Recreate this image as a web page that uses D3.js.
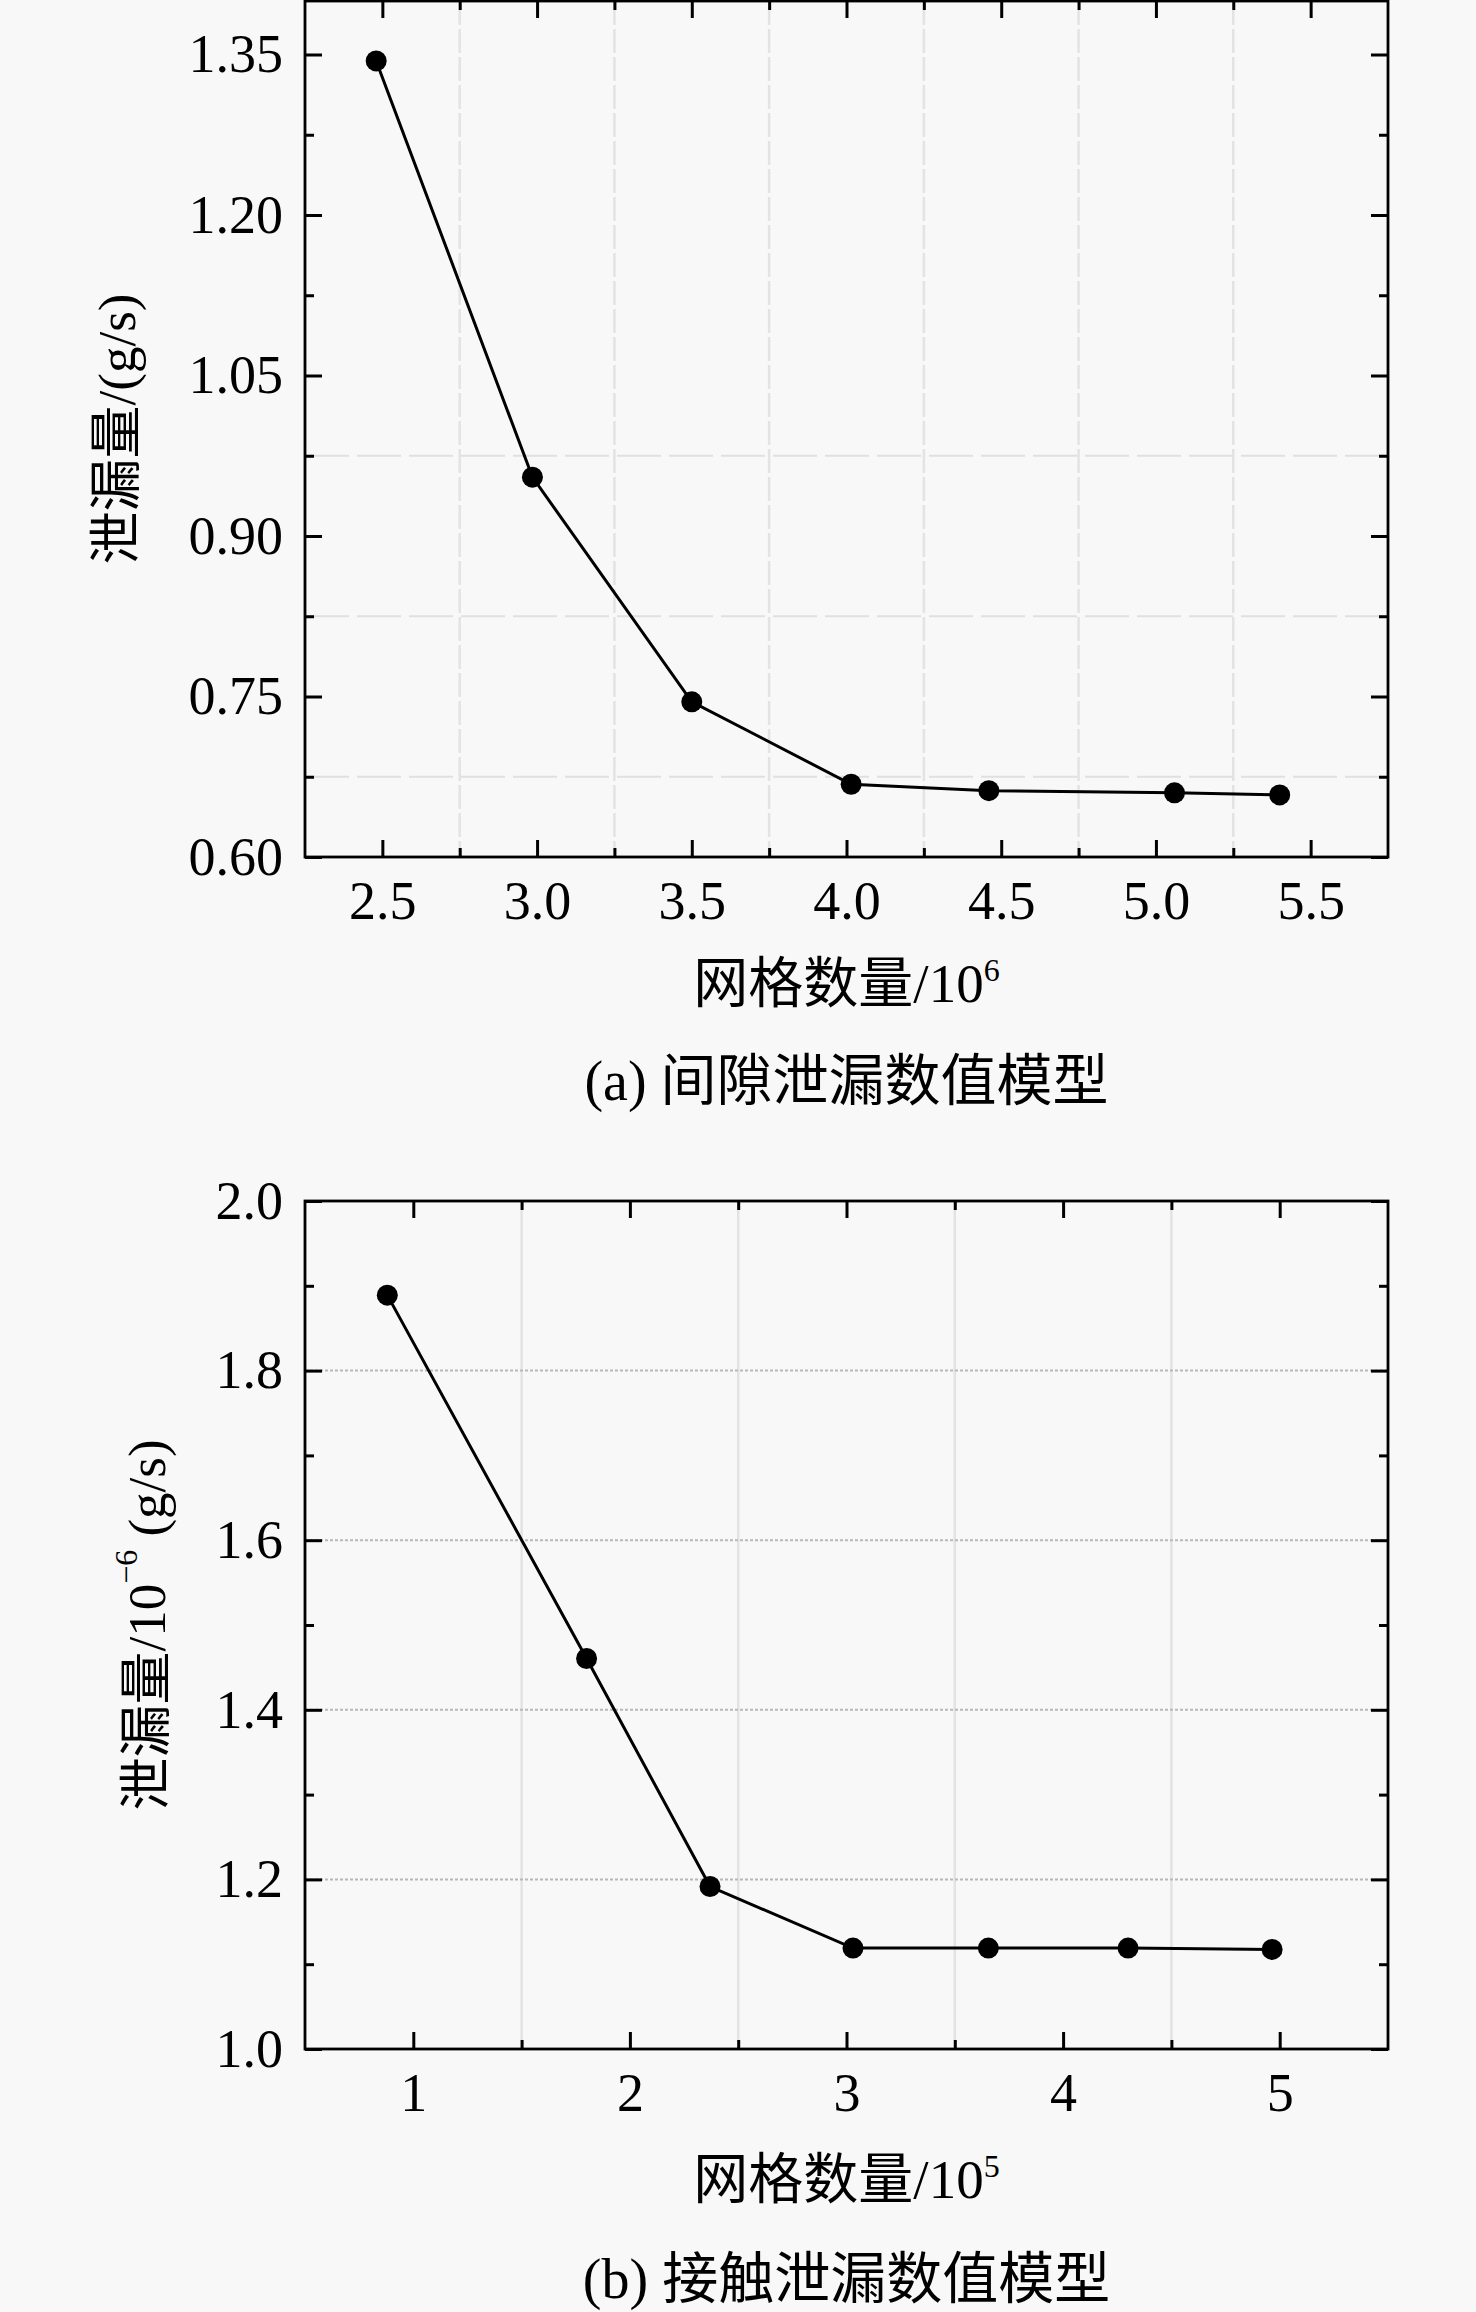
<!DOCTYPE html>
<html>
<head>
<meta charset="utf-8">
<script src="https://cdn.jsdelivr.net/npm/d3@7"></script>
<style>
  html, body { margin: 0; padding: 0; background: #f8f8f8; }
  svg { display: block; }
  text { fill: #000; }
</style>
</head>
<body>
<svg id="chart" width="1476" height="2312"></svg>
<script>
// (a) gap leakage model
const gapMesh = [2.48, 2.985, 3.50, 4.015, 4.46, 5.06, 5.40];
const gapLeak = [1.344, 0.955, 0.745, 0.668, 0.662, 0.660, 0.658];
const gapXTicks = [2.5, 3.0, 3.5, 4.0, 4.5, 5.0, 5.5];
const gapXMinor = [2.75, 3.25, 3.75, 4.25, 4.75, 5.25];
const gapYTicks = [0.60, 0.75, 0.90, 1.05, 1.20, 1.35];
const gapYMinor = [0.675, 0.825, 0.975, 1.125, 1.275];
const gapGridY = [0.675, 0.825, 0.975];

// (b) contact leakage model
const contactMesh = [0.88, 1.80, 2.37, 3.03, 3.655, 4.30, 4.965];
const contactLeak = [1.889, 1.4605, 1.1916, 1.119, 1.119, 1.119, 1.1174];
const contactXTicks = [1, 2, 3, 4, 5];
const contactXMinor = [1.5, 2.5, 3.5, 4.5];
const contactYTicks = [1.0, 1.2, 1.4, 1.6, 1.8, 2.0];
const contactYMinor = [1.1, 1.3, 1.5, 1.7, 1.9];

const latin = '"Liberation Serif", "Times New Roman", serif';
const cjk = '"Liberation Serif", "Noto Sans CJK SC", serif';

const svg = d3.select('#chart');

function drawPanel(p)
{
  const x = d3.scaleLinear().domain(p.xDomain).range([p.left, p.right]);
  const y = d3.scaleLinear().domain(p.yDomain).range([p.bottom, p.top]);
  const g = svg.append('g');

  // grid
  g.append('g').selectAll('line').data(p.gridX).join('line')
    .attr('x1', d => x(d)).attr('x2', d => x(d))
    .attr('y1', p.top).attr('y2', p.bottom)
    .attr('stroke', '#e3e3e3').attr('stroke-width', 2.5)
    .attr('stroke-dasharray', p.gridXDash);
  g.append('g').selectAll('line').data(p.gridY).join('line')
    .attr('x1', p.left).attr('x2', p.right)
    .attr('y1', d => y(d)).attr('y2', d => y(d))
    .attr('stroke', p.gridYColor).attr('stroke-width', 2)
    .attr('stroke-dasharray', p.gridYDash);

  const tickStyle = sel => {
    sel.select('.domain').remove();
    sel.selectAll('line').attr('stroke', '#000').attr('stroke-width', 3);
    sel.selectAll('text').attr('font-family', latin).attr('font-size', 54).attr('fill', '#000');
  };

  // major + minor ticks, all pointing inward on the four sides
  g.append('g').attr('transform', `translate(0,${p.bottom})`)
    .call(d3.axisBottom(x).tickValues(p.xTicks).tickSize(-17).tickPadding(24).tickFormat(p.xFormat))
    .call(tickStyle);
  g.append('g').attr('transform', `translate(0,${p.bottom})`)
    .call(d3.axisBottom(x).tickValues(p.xMinor).tickSize(-9).tickFormat(''))
    .call(tickStyle);
  g.append('g').attr('transform', `translate(0,${p.top})`)
    .call(d3.axisTop(x).tickValues(p.xTicks).tickSize(-17).tickFormat(''))
    .call(tickStyle);
  g.append('g').attr('transform', `translate(0,${p.top})`)
    .call(d3.axisTop(x).tickValues(p.xMinor).tickSize(-9).tickFormat(''))
    .call(tickStyle);
  g.append('g').attr('transform', `translate(${p.left},0)`)
    .call(d3.axisLeft(y).tickValues(p.yTicks).tickSize(-17).tickPadding(22).tickFormat(p.yFormat))
    .call(tickStyle);
  g.append('g').attr('transform', `translate(${p.left},0)`)
    .call(d3.axisLeft(y).tickValues(p.yMinor).tickSize(-9).tickFormat(''))
    .call(tickStyle);
  g.append('g').attr('transform', `translate(${p.right},0)`)
    .call(d3.axisRight(y).tickValues(p.yTicks).tickSize(-17).tickFormat(''))
    .call(tickStyle);
  g.append('g').attr('transform', `translate(${p.right},0)`)
    .call(d3.axisRight(y).tickValues(p.yMinor).tickSize(-9).tickFormat(''))
    .call(tickStyle);

  // frame
  g.append('rect')
    .attr('x', p.left).attr('y', p.top)
    .attr('width', p.right - p.left).attr('height', p.bottom - p.top)
    .attr('fill', 'none').attr('stroke', '#000').attr('stroke-width', 2.8);

  // series
  const pts = p.xs.map((v, i) => [v, p.ys[i]]);
  g.append('path').datum(pts)
    .attr('d', d3.line().x(d => x(d[0])).y(d => y(d[1])))
    .attr('fill', 'none').attr('stroke', '#000').attr('stroke-width', 3);
  g.append('g').selectAll('circle').data(pts).join('circle')
    .attr('cx', d => x(d[0])).attr('cy', d => y(d[1]))
    .attr('r', 10.5).attr('fill', '#000');

  // x title with superscript
  const cx = (p.left + p.right) / 2;
  const xt = g.append('text')
    .attr('x', cx).attr('y', p.xTitleY)
    .attr('text-anchor', 'middle')
    .attr('font-family', cjk).attr('font-size', 55);
  xt.append('tspan').text(p.xTitle);
  xt.append('tspan').attr('dy', -21).attr('font-size', 32).text(p.xSup);

  // y title, rotated
  const yt = g.append('text')
    .attr('transform', `translate(${p.yTitleX},${(p.top + p.bottom) / 2}) rotate(-90)`)
    .attr('text-anchor', 'middle')
    .attr('dominant-baseline', 'central')
    .attr('font-family', cjk).attr('font-size', 53);
  yt.append('tspan').text(p.yTitle[0]);
  if (p.yTitle.length > 1)
  {
    yt.append('tspan').attr('dy', -21).attr('font-size', 32).text(p.yTitle[1]);
    yt.append('tspan').attr('dy', 21).text(p.yTitle[2]);
  }

  // caption
  g.append('text')
    .attr('x', cx).attr('y', p.captionY)
    .attr('text-anchor', 'middle')
    .attr('font-family', cjk).attr('font-size', 56)
    .text(p.caption);
}

drawPanel({
  left: 305, right: 1388, top: 1, bottom: 857,
  xDomain: [2.25, 5.75], yDomain: [0.6, 1.4],
  xTicks: gapXTicks, xMinor: gapXMinor, yTicks: gapYTicks, yMinor: gapYMinor,
  xFormat: d3.format('.1f'), yFormat: d3.format('.2f'),
  gridX: gapXMinor, gridY: gapGridY,
  gridXDash: '24 4', gridYDash: '44 8', gridYColor: '#e0e0e0',
  xs: gapMesh, ys: gapLeak,
  xTitle: '网格数量/10', xSup: '6', xTitleY: 1002,
  yTitle: ['泄漏量/(g/s)'], yTitleX: 117,
  caption: '(a) 间隙泄漏数值模型', captionY: 1100
});

drawPanel({
  left: 305, right: 1388, top: 1201, bottom: 2049,
  xDomain: [0.5, 5.5], yDomain: [1.0, 2.0],
  xTicks: contactXTicks, xMinor: contactXMinor, yTicks: contactYTicks, yMinor: contactYMinor,
  xFormat: d3.format('d'), yFormat: d3.format('.1f'),
  gridX: contactXMinor, gridY: contactYTicks.slice(1, -1),
  gridXDash: null, gridYDash: '3 2', gridYColor: '#b8b8b8',
  xs: contactMesh, ys: contactLeak,
  xTitle: '网格数量/10', xSup: '5', xTitleY: 2198,
  yTitle: ['泄漏量/10', '−6', ' (g/s)'], yTitleX: 147,
  caption: '(b) 接触泄漏数值模型', captionY: 2298
});
</script>
</body>
</html>
